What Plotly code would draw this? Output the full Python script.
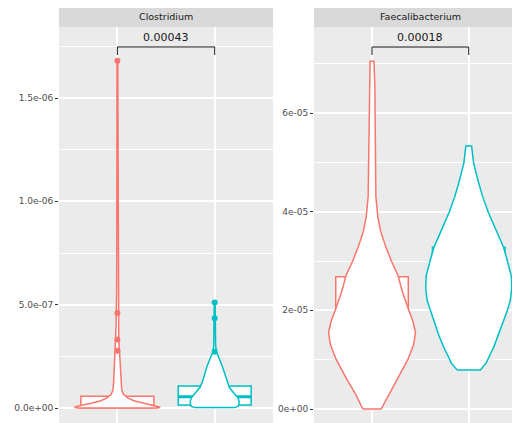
import plotly.graph_objects as go

# ---------------- data ----------------
panels = ["Clostridium", "Faecalibacterium"]
groups = [1, 2]
colors = ["#F8766D", "#00BFC4"]
p_labels = ["0.00043", "0.00018"]

# violin profiles (value, half-width in category units)
clo_g1_y = [0, 0.004e-6, 0.01e-6, 0.018e-6, 0.024e-6, 0.035e-6, 0.048e-6, 0.065e-6, 0.087e-6,
            0.13e-6, 0.17e-6, 0.22e-6, 0.26e-6, 0.28e-6, 0.32e-6, 0.36e-6, 0.40e-6, 0.46e-6,
            0.55e-6, 0.8e-6, 1.2e-6, 1.68e-6]
clo_g1_hw = [0.41, 0.44, 0.40, 0.31, 0.26, 0.17, 0.11, 0.065, 0.045, 0.038, 0.034, 0.032,
             0.028, 0.02, 0.016, 0.014, 0.013, 0.012, 0.008, 0.006, 0.005, 0.004]
clo_g2_y = [0.002e-6, 0.008e-6, 0.02e-6, 0.035e-6, 0.05e-6, 0.07e-6, 0.1e-6, 0.135e-6, 0.17e-6,
            0.2e-6, 0.23e-6, 0.25e-6, 0.27e-6, 0.3e-6, 0.4e-6, 0.512e-6]
clo_g2_hw = [0.2, 0.24, 0.25, 0.25, 0.24, 0.2, 0.15, 0.12, 0.1, 0.08, 0.055, 0.04, 0.02,
             0.01, 0.006, 0.004]
fae_g1_y = [0, 0.3e-5, 0.6e-5, 1.0e-5, 1.3e-5, 1.55e-5, 1.8e-5, 2.0e-5, 2.4e-5, 2.7e-5,
            3.0e-5, 3.3e-5, 3.6e-5, 3.9e-5, 4.3e-5, 5.0e-5, 5.7e-5, 6.5e-5, 7.05e-5]
fae_g1_hw = [0.095, 0.17, 0.26, 0.37, 0.43, 0.45, 0.42, 0.38, 0.31, 0.27, 0.2, 0.14, 0.09,
             0.06, 0.04, 0.035, 0.033, 0.03, 0.02]
fae_g2_y = [0.79e-5, 0.93e-5, 1.1e-5, 1.26e-5, 1.5e-5, 1.74e-5, 2.0e-5, 2.2e-5, 2.45e-5,
            2.7e-5, 3.0e-5, 3.28e-5, 3.5e-5, 3.77e-5, 4.0e-5, 4.3e-5, 4.6e-5, 4.99e-5,
            5.2e-5, 5.33e-5]
fae_g2_hw = [0.12, 0.18, 0.22, 0.26, 0.31, 0.35, 0.40, 0.43, 0.445, 0.44, 0.40, 0.36, 0.31,
             0.25, 0.2, 0.145, 0.1, 0.05, 0.035, 0.03]

# box statistics: q1, median, q3, lower fence, upper fence
clo_box = [[0.001e-6, 0.008e-6, 0.057e-6, 0.0, 0.13e-6],
           [0.0145e-6, 0.054e-6, 0.106e-6, 0.002e-6, 0.24e-6]]
fae_box = [[1.2e-5, 1.8e-5, 2.68e-5, 0.0, 4.9e-5],
           [1.9e-5, 2.55e-5, 3.28e-5, 0.79e-5, 5.33e-5]]

# outliers
clo_out_g1 = [0.277e-6, 0.332e-6, 0.46e-6, 1.68e-6]
clo_out_g2 = [0.272e-6, 0.434e-6, 0.511e-6]

# significance brackets (level, tip) and label level
bracket_level = [1.747e-6, 7.338e-5]
bracket_tip = [1.708e-6, 7.176e-5]
label_level = [1.795e-6, 7.54e-5]

# axis ticks
y1_ticks = [0, 5e-7, 1e-6, 1.5e-6]
y1_text = ["0.0e+00", "5.0e-07", "1.0e-06", "1.5e-06"]
y1_minor = [2.5e-7, 7.5e-7, 1.25e-6, 1.75e-6]
y2_ticks = [0, 2e-5, 4e-5, 6e-5]
y2_text = ["0e+00", "2e-05", "4e-05", "6e-05"]
y2_minor = [1e-5, 3e-5, 5e-5, 7e-5]

BOX_W = 0.75
W, H = 520, 423
OFF = 8  # page body margin offset

fig = go.Figure()

violins = [[(clo_g1_y, clo_g1_hw), (clo_g2_y, clo_g2_hw)],
           [(fae_g1_y, fae_g1_hw), (fae_g2_y, fae_g2_hw)]]
boxes = [clo_box, fae_box]
outliers = [[clo_out_g1, clo_out_g2], [[], []]]

for p in range(2):
    xa = "x" if p == 0 else "x2"
    ya = "y" if p == 0 else "y2"
    for g in range(2):
        q1, med, q3, lf, uf = boxes[p][g]
        fig.add_trace(go.Box(x=[groups[g]], q1=[q1], median=[med], q3=[q3],
                             lowerfence=[lf], upperfence=[uf], width=BOX_W,
                             fillcolor="white", line=dict(color=colors[g], width=1.5),
                             whiskerwidth=0, boxpoints=False, xaxis=xa, yaxis=ya,
                             showlegend=False, hoverinfo="skip"))
    for g in range(2):
        q1, med, q3, lf, uf = boxes[p][g]
        c = groups[g]
        fig.add_trace(go.Scatter(x=[c - BOX_W / 2, c + BOX_W / 2], y=[med, med], mode="lines",
                                 line=dict(color=colors[g], width=3), xaxis=xa, yaxis=ya,
                                 showlegend=False, hoverinfo="skip"))
    for g in range(2):
        vy, vw = violins[p][g]
        c = groups[g]
        xs = [c - w for w in vw] + [c + w for w in reversed(vw)] + [c - vw[0]]
        ys = list(vy) + list(reversed(vy)) + [vy[0]]
        fig.add_trace(go.Scatter(x=xs, y=ys, mode="lines", fill="toself", fillcolor="white",
                                 line=dict(color=colors[g], width=1.5), xaxis=xa, yaxis=ya,
                                 showlegend=False, hoverinfo="skip"))
    for g in range(2):
        pts = outliers[p][g]
        if pts:
            fig.add_trace(go.Scatter(x=[groups[g]] * len(pts), y=pts, mode="markers",
                                     marker=dict(color=colors[g], size=6), xaxis=xa, yaxis=ya,
                                     showlegend=False, hoverinfo="skip"))
    fig.add_trace(go.Scatter(x=[groups[0], groups[0], groups[1], groups[1]],
                             y=[bracket_tip[p], bracket_level[p], bracket_level[p], bracket_tip[p]],
                             mode="lines", line=dict(color="#1A1A1A", width=1),
                             xaxis=xa, yaxis=ya, showlegend=False, hoverinfo="skip"))
    fig.add_annotation(x=(groups[0] + groups[1]) / 2, y=label_level[p], xref=xa, yref=ya,
                       text=p_labels[p], showarrow=False, xanchor="center", yanchor="middle",
                       font=dict(family="DejaVu Sans", size=11, color="#1A1A1A"))

# geometry in window pixels, converted to figure pixels
p1_l, p1_r = 59 - OFF, 273 - OFF
p2_l, p2_r = 314 - OFF, W
panel_top = 27 - OFF
strip_top = max(6 - OFF, 0)
y_top = (H - panel_top) / H
px1 = 97.3
px2 = 96.7
y1_zero_px, y1_scale = 408 - OFF, 206.67e6
y2_zero_px, y2_scale = 409 - OFF, 49.33e5
y1_range = [(y1_zero_px - H) / y1_scale, (y1_zero_px - panel_top) / y1_scale]
y2_range = [(y2_zero_px - H) / y2_scale, (y2_zero_px - panel_top) / y2_scale]

common_x = dict(showticklabels=False, ticks="", showgrid=True, gridcolor="white",
                gridwidth=1.6, zeroline=False, showline=False, tickvals=groups)
fig.update_layout(
    xaxis=dict(domain=[p1_l / W, p1_r / W], range=[0.4, 0.4 + (p1_r - p1_l) / px1],
               anchor="y", **common_x),
    xaxis2=dict(domain=[p2_l / W, p2_r / W], range=[0.4, 0.4 + (p2_r - p2_l) / px2],
                anchor="y2", **common_x),
)
common_y = dict(showgrid=True, gridcolor="white", gridwidth=1.6, zeroline=False,
                ticks="outside", ticklen=3, tickcolor="#333333", tickwidth=1,
                tickfont=dict(family="DejaVu Sans", size=9, color="#4D4D4D"))
fig.update_layout(
    yaxis=dict(domain=[0, y_top], range=y1_range, anchor="x",
               tickvals=y1_ticks, ticktext=y1_text,
               minor=dict(tickvals=y1_minor, showgrid=True, gridcolor="white", gridwidth=0.7, ticks=""),
               **common_y),
    yaxis2=dict(domain=[0, y_top], range=y2_range, anchor="x2",
                tickvals=y2_ticks, ticktext=y2_text,
                minor=dict(tickvals=y2_minor, showgrid=True, gridcolor="white", gridwidth=0.7, ticks=""),
                **common_y),
)

shapes = []
for (l, r) in [(p1_l, p1_r), (p2_l, p2_r)]:
    shapes.append(dict(type="rect", xref="paper", yref="paper", x0=l / W, x1=r / W,
                       y0=0, y1=y_top, fillcolor="#EBEBEB", line=dict(width=0), layer="below"))
    shapes.append(dict(type="rect", xref="paper", yref="paper", x0=l / W, x1=r / W,
                       y0=y_top, y1=(H - strip_top) / H, fillcolor="#D9D9D9", line=dict(width=0),
                       layer="below"))
fig.update_layout(shapes=shapes)
strip_centers = [(p1_l + p1_r) / 2, p2_l + 1.1 * px2]
for name, cx in zip(panels, strip_centers):
    fig.add_annotation(x=cx / W, y=(H - (16.5 - OFF)) / H,
                       xref="paper", yref="paper", text=name, showarrow=False,
                       xanchor="center", yanchor="middle",
                       font=dict(family="DejaVu Sans", size=9.5, color="#1A1A1A"))

fig.update_layout(width=W, height=H, margin=dict(l=0, r=0, t=0, b=0),
                  paper_bgcolor="white", plot_bgcolor="rgba(0,0,0,0)")

fig.write_html("out.html")
